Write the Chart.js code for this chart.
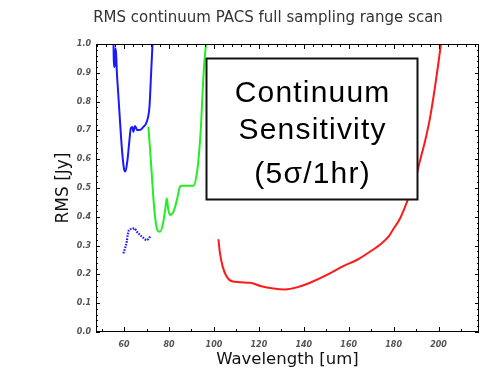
<!DOCTYPE html>
<html>
<head>
<meta charset="utf-8">
<script src="https://cdn.jsdelivr.net/npm/chart.js@4.4.1/dist/chart.umd.min.js"></script>
<style>
  html, body { margin: 0; padding: 0; background: #fff; }
  canvas { display: block; }
</style>
</head>
<body>
<canvas id="c" width="484" height="382"></canvas>
<script>
// ---- data ----
const titleText = 'RMS continuum PACS full sampling range scan';
const xTitle = 'Wavelength [um]';
const yTitle = 'RMS [Jy]';
const xTickValues = [60, 80, 100, 120, 140, 160, 180, 200];

const blueUpperX = [55.3, 55.4, 55.6, 55.9, 56.2, 56.5, 56.8, 57.3, 58.2, 59.1, 60.0, 60.6, 61.5, 62.4, 63.0, 63.7, 64.1, 64.9, 65.9, 67.1, 68.6, 70.1, 71.3, 71.9, 72.6, 72.7];
const blueUpperY = [1.0, 0.95, 0.92, 0.93, 0.985, 0.96, 0.90, 0.84, 0.73, 0.63, 0.565, 0.557, 0.597, 0.667, 0.708, 0.712, 0.695, 0.715, 0.701, 0.701, 0.712, 0.73, 0.782, 0.875, 0.99, 1.0];

const blueLowerX = [59.7, 60.4, 61.2, 61.6, 62.2, 63.4, 64.5, 65.7, 67.1, 68.6, 70.1, 70.8, 71.6];
const blueLowerY = [0.273, 0.29, 0.314, 0.337, 0.354, 0.358, 0.36, 0.348, 0.337, 0.327, 0.319, 0.323, 0.331];

const greenX = [70.8, 71.6, 72.3, 73.0, 73.8, 74.8, 76.0, 77.2, 78.3, 79.0, 79.7, 80.5, 82.0, 83.5, 84.9, 85.7, 90.9, 92.4, 93.5, 94.3, 95.0, 95.8, 96.5];
const greenY = [0.713, 0.632, 0.551, 0.47, 0.40, 0.354, 0.348, 0.372, 0.424, 0.464, 0.424, 0.406, 0.418, 0.458, 0.505, 0.508, 0.508, 0.551, 0.632, 0.725, 0.84, 0.944, 1.0];

const redX = [102.0, 102.7, 103.9, 105.7, 108.4, 116.1, 120.6, 126.5, 131.7, 136.9, 142.8, 150.3, 157.6, 163.6, 169.5, 174.7, 177.7, 179.6, 182.9, 185.1, 187.4, 189.6, 191.8, 194.1, 196.3, 198.2, 199.7, 200.7, 201.0];
const redY = [0.322, 0.273, 0.227, 0.192, 0.175, 0.171, 0.16, 0.151, 0.148, 0.155, 0.171, 0.198, 0.229, 0.25, 0.279, 0.308, 0.331, 0.354, 0.395, 0.435, 0.481, 0.528, 0.597, 0.667, 0.748, 0.84, 0.921, 0.979, 0.997];

// annotation box (in data units) and its text
const boxX = [96.5, 190.5];
const boxY = [0.951, 0.462];
const boxLines = ['Continuum', 'Sensitivity', '(5σ/1hr)'];

// ---- helpers ----
const toPts = (xs, ys) => xs.map((x, i) => ({ x: x, y: ys[i] }));

const tickFont = { family: 'DejaVu Sans', size: 8, style: 'italic', weight: 'bold' };

const framePlugin = {
  id: 'frame',
  afterDatasetsDraw(chart) {
    const { ctx, chartArea: a, scales: { x, y } } = chart;
    ctx.save();
    ctx.strokeStyle = '#000';
    ctx.lineWidth = 1;
    // frame
    ctx.strokeRect(Math.round(a.left) + 0.5, Math.round(a.top) + 0.5,
                   Math.round(a.right - a.left) - 1, Math.round(a.bottom - a.top) - 1);
    ctx.beginPath();
    // left/right ticks every 0.02
    for (let i = 0; i <= 50; i++) {
      const py = Math.round(y.getPixelForValue(i * 0.02)) + 0.5;
      const len = (i % 5 === 0) ? 4 : 2;
      ctx.moveTo(a.left, py); ctx.lineTo(a.left + len, py);
      ctx.moveTo(a.right, py); ctx.lineTo(a.right - len, py);
    }
    // top ticks every 4
    for (let v = 48; v <= 216; v += 4) {
      const px = Math.round(x.getPixelForValue(v)) + 0.5;
      const len = (v % 20 === 0) ? 5 : 3;
      ctx.moveTo(px, a.top); ctx.lineTo(px, a.top + len);
    }
    // bottom ticks every 10
    for (let v = 50; v <= 210; v += 10) {
      const px = Math.round(x.getPixelForValue(v)) + 0.5;
      const len = (v % 20 === 0) ? 5 : 3;
      ctx.moveTo(px, a.bottom); ctx.lineTo(px, a.bottom - len);
    }
    ctx.stroke();

    // annotation box
    const bl = Math.round(x.getPixelForValue(boxX[0])) + 0.5;
    const br = Math.round(x.getPixelForValue(boxX[1])) + 0.5;
    const bt = Math.round(y.getPixelForValue(boxY[0])) + 0.5;
    const bb = Math.round(y.getPixelForValue(boxY[1])) + 0.5;
    ctx.fillStyle = '#fff';
    ctx.fillRect(bl, bt, br - bl, bb - bt);
    ctx.lineWidth = 2;
    ctx.strokeStyle = '#111';
    ctx.strokeRect(bl, bt, br - bl, bb - bt);
    ctx.fillStyle = '#000';
    ctx.font = '30px "Liberation Sans", Arial, sans-serif';
    try { ctx.letterSpacing = '1.2px'; } catch (e) {}
    ctx.textAlign = 'center';
    ctx.textBaseline = 'alphabetic';
    const cx = (bl + br) / 2 + 0.6;
    const baseOffsets = [43, 80, 124];
    boxLines.forEach((t, i) => ctx.fillText(t, cx, bt + baseOffsets[i]));
    ctx.restore();
  }
};

new Chart(document.getElementById('c'), {
  type: 'line',
  data: {
    datasets: [
      { data: toPts(blueUpperX, blueUpperY), borderColor: '#1a1aff', borderWidth: 2, pointRadius: 0, cubicInterpolationMode: 'monotone' },
      { data: toPts(blueLowerX, blueLowerY), borderColor: '#1a1aff', borderWidth: 2.2, borderDash: [1.6, 1.2], pointRadius: 0, cubicInterpolationMode: 'monotone' },
      { data: toPts(greenX, greenY), borderColor: '#22ee22', borderWidth: 2, pointRadius: 0, cubicInterpolationMode: 'monotone' },
      { data: toPts(redX, redY), borderColor: '#ff1a1a', borderWidth: 2, pointRadius: 0, cubicInterpolationMode: 'monotone' }
    ]
  },
  options: {
    responsive: false,
    animation: false,
    events: [],
    layout: { padding: { left: 57, right: 5, top: 0, bottom: 0 } },
    plugins: {
      legend: { display: false },
      tooltip: { enabled: false },
      title: {
        display: true,
        text: titleText,
        color: '#333',
        font: { family: 'DejaVu Sans', size: 15, weight: 'normal', lineHeight: 1.2 },
        padding: { top: 9.5, bottom: 16.5 }
      }
    },
    scales: {
      x: {
        type: 'linear',
        min: 47.5,
        max: 218,
        grid: { display: false, drawTicks: false },
        border: { display: false },
        afterBuildTicks: s => { s.ticks = xTickValues.map(v => ({ value: v })); },
        afterFit: s => { s.height = 50; },
        ticks: { font: tickFont, color: '#555', padding: 8, maxRotation: 0, autoSkip: false },
        title: {
          display: true, text: xTitle, color: '#111',
          font: { family: 'DejaVu Sans', size: 16.5 },
          padding: { top: 0, bottom: 12.5 }
        }
      },
      y: {
        type: 'linear',
        min: 0,
        max: 1,
        grid: { display: false, drawTicks: false },
        border: { display: false },
        afterFit: s => { s.width = 39; },
        ticks: { stepSize: 0.1, font: tickFont, color: '#555', padding: 5, callback: v => Number(v).toFixed(1) },
        title: {
          display: true, text: yTitle, color: '#111',
          font: { family: 'DejaVu Sans', size: 17, lineHeight: 1 },
          padding: { top: -2, bottom: 0 }
        }
      }
    }
  },
  plugins: [framePlugin]
});
</script>
</body>
</html>
